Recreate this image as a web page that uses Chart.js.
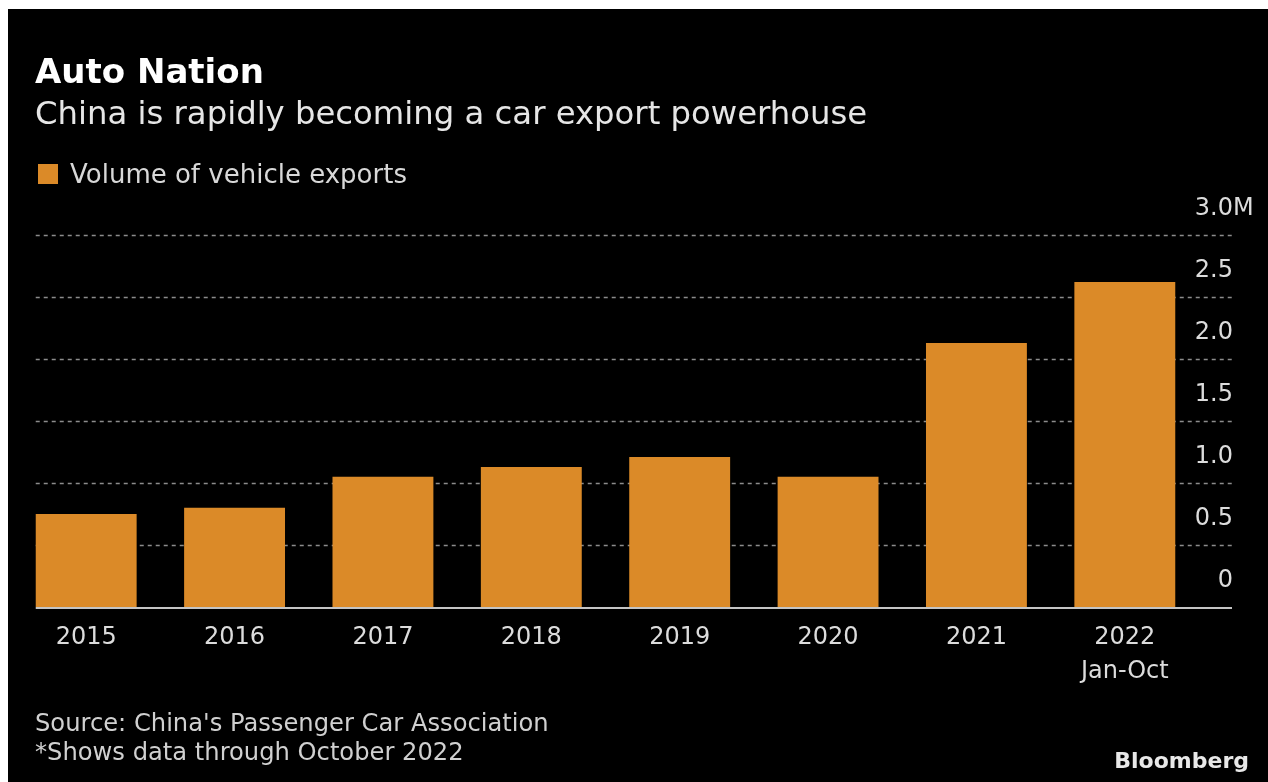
<!DOCTYPE html>
<html lang="en">
<head>
    <meta charset="UTF-8">
    <title>Auto Nation</title>
    <script src="https://cdn.jsdelivr.net/npm/chart.js"></script>
    <style>
        body, html {
            margin: 0;
            padding: 0;
            width: 1268px;
            height: 782px;
            overflow: hidden;
            background: #fff;
            font-family: "DejaVu Sans", sans-serif;
        }
        #panel {
            position: absolute;
            left: 8px;
            top: 9px;
            right: 0;
            bottom: 0;
            background: #000;
        }
        #chart {
            position: absolute;
            left: 0;
            top: 0;
        }
        .txt {
            position: absolute;
            line-height: 1;
            white-space: nowrap;
        }
        #title { left: 35px; top: 54px; font-size: 34px; font-weight: bold; color: #fff; }
        #subtitle { left: 35px; top: 97px; font-size: 32.3px; color: #e6e6e6; }
        #legendBox { position: absolute; left: 38px; top: 164px; width: 20px; height: 20px; background: #db8a28; }
        #legendText { left: 70px; top: 161px; font-size: 26px; color: #d8d8d8; }
        #source { left: 35px; top: 711px; font-size: 24.2px; color: #d0d0d0; }
        #note { left: 35px; top: 740px; font-size: 24.2px; color: #d0d0d0; }
        #brand { right: 19px; top: 750px; font-size: 22px; font-weight: bold; color: #e8e8e8; }
    </style>
</head>
<body>
    <div id="panel"></div>
    <canvas id="chart" width="1268" height="782"></canvas>
    <div class="txt" id="title">Auto Nation</div>
    <div class="txt" id="subtitle">China is rapidly becoming a car export powerhouse</div>
    <div id="legendBox"></div>
    <div class="txt" id="legendText">Volume of vehicle exports</div>
    <div class="txt" id="source">Source: China's Passenger Car Association</div>
    <div class="txt" id="note">*Shows data through October 2022</div>
    <div class="txt" id="brand">Bloomberg</div>

    <script>
        // Data (millions of vehicles)
        const years = ['2015', '2016', '2017', '2018', '2019', '2020', '2021', ['2022', 'Jan-Oct']];
        const exportVolume = [0.75, 0.80, 1.05, 1.13, 1.21, 1.05, 2.13, 2.62];
        const yTicks = [0, 0.5, 1.0, 1.5, 2.0, 2.5, 3.0];
        const yTickLabels = ['0', '0.5', '1.0', '1.5', '2.0', '2.5', '3.0'];

        const barColor = '#db8a28';
        const gridExtend = 33; // dotted lines run past the plot into the label column

        // Bloomberg-style value axis: dotted lines, labels sitting above each line,
        // unit only on the top label and hanging past the number column
        const axisPlugin = {
            id: 'bbgAxis',
            beforeDatasetsDraw(chart) {
                const ctx = chart.ctx;
                const y = chart.scales.y;
                const first = chart.getDatasetMeta(0).data[0];
                const x0 = first.x - first.width / 2;
                const x1 = chart.chartArea.right + gridExtend;
                ctx.save();
                ctx.strokeStyle = '#8c8c8c';
                ctx.lineWidth = 1.5;
                ctx.setLineDash([4, 4]);
                yTicks.forEach(v => {
                    if (v === 0) return;
                    const py = Math.round(y.getPixelForValue(v)) + 0.5;
                    ctx.beginPath();
                    ctx.moveTo(x0, py);
                    ctx.lineTo(x1, py);
                    ctx.stroke();
                });
                ctx.restore();
            },
            afterDatasetsDraw(chart) {
                const ctx = chart.ctx;
                const y = chart.scales.y;
                const first = chart.getDatasetMeta(0).data[0];
                const x0 = first.x - first.width / 2;
                const x1 = chart.chartArea.right + gridExtend;
                const py = y.getPixelForValue(0) + 1;
                ctx.save();
                ctx.strokeStyle = '#c4c4c4';
                ctx.lineWidth = 2;
                ctx.beginPath();
                ctx.moveTo(x0, py);
                ctx.lineTo(x1, py);
                ctx.stroke();

                ctx.fillStyle = '#dcdcdc';
                ctx.font = '24px "DejaVu Sans"';
                ctx.textBaseline = 'middle';
                yTicks.forEach((v, i) => {
                    const ly = y.getPixelForValue(v) - 26;
                    ctx.textAlign = 'right';
                    ctx.fillText(yTickLabels[i], x1 + 1, ly);
                    if (i === yTicks.length - 1) {
                        ctx.textAlign = 'left';
                        ctx.fillText('M', x1 + 1, ly);
                    }
                });
                ctx.restore();
            }
        };

        new Chart(document.getElementById('chart'), {
            type: 'bar',
            data: {
                labels: years,
                datasets: [{
                    label: 'Volume of vehicle exports',
                    data: exportVolume,
                    backgroundColor: barColor,
                    borderWidth: 0,
                    categoryPercentage: 1.0,
                    barPercentage: 0.68
                }]
            },
            options: {
                responsive: false,
                animation: false,
                layout: {
                    padding: { left: 12, right: 16, top: 235, bottom: 95 }
                },
                plugins: {
                    legend: { display: false },
                    tooltip: { enabled: false }
                },
                scales: {
                    x: {
                        grid: { display: false, drawTicks: false },
                        border: { display: false },
                        ticks: {
                            color: '#dcdcdc',
                            padding: 14,
                            font: { family: 'DejaVu Sans', size: 24, lineHeight: 1.4 }
                        },
                        afterFit(scale) { scale.height = 80; }
                    },
                    y: {
                        position: 'right',
                        min: 0,
                        max: 3.0,
                        grid: { display: false, drawTicks: false },
                        border: { display: false },
                        ticks: { display: false, stepSize: 0.5 },
                        afterFit(scale) { scale.width = 53; }
                    }
                }
            },
            plugins: [axisPlugin]
        });
    </script>
</body>
</html>
